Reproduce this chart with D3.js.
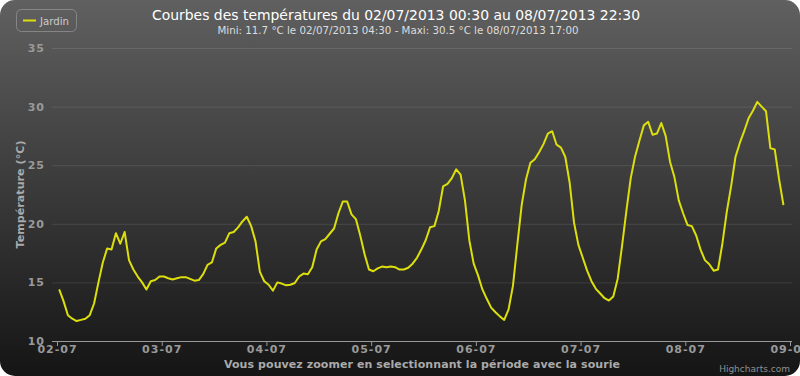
<!DOCTYPE html>
<meta charset="utf-8">
<style>
body { margin: 0; background: #fff; }
svg text { font-family: "DejaVu Sans", sans-serif; }
</style>
<body>
<svg id="chart"></svg>
<script src="https://d3js.org/d3.v7.min.js"></script>
<script>

// hourly readings at hh:30, starting 02/07/2013 00:30
var startTime = Date.UTC(2013, 6, 2, 0, 30);
var temps = [
  // 02/07
  14.4, 13.4, 12.2, 11.9, 11.7, 11.8, 11.9, 12.2, 13.2, 15.0, 16.7, 17.9,
  17.8, 19.2, 18.3, 19.3, 16.9, 16.1, 15.5, 15.0, 14.4, 15.1, 15.2, 15.5,
  // 03/07
  15.5, 15.35, 15.25, 15.35, 15.45, 15.45, 15.3, 15.15, 15.2, 15.7, 16.5, 16.7,
  17.9, 18.2, 18.4, 19.2, 19.3, 19.7, 20.2, 20.6, 19.8, 18.5, 15.9, 15.1,
  // 04/07
  14.8, 14.3, 15.0, 14.9, 14.75, 14.8, 14.95, 15.5, 15.75, 15.7, 16.3, 17.8,
  18.5, 18.7, 19.15, 19.6, 20.9, 21.9, 21.9, 20.8, 20.4, 19.0, 17.4, 16.1,
  // 05/07
  15.95, 16.2, 16.35, 16.3, 16.35, 16.3, 16.1, 16.1, 16.25, 16.6, 17.1, 17.8,
  18.6, 19.7, 19.8, 21.1, 23.2, 23.4, 23.9, 24.65, 24.2, 22.0, 18.6, 16.6,
  // 06/07
  15.6, 14.4, 13.6, 12.85, 12.45, 12.1, 11.8, 12.7, 14.7, 18.2, 21.6, 23.8,
  25.2, 25.5, 26.1, 26.8, 27.7, 27.9, 26.75, 26.5, 25.7, 23.5, 20.1, 18.2,
  // 07/07
  17.1, 16.0, 15.1, 14.45, 14.05, 13.65, 13.45, 13.8, 15.3, 18.1, 21.1, 23.9,
  25.75, 27.1, 28.4, 28.7, 27.6, 27.7, 28.6, 27.5, 25.3, 24.0, 22.0, 20.9,
  // 08/07
  19.9, 19.8, 19.0, 17.8, 16.9, 16.55, 16.0, 16.1, 18.3, 21.0, 23.2, 25.7,
  26.9, 27.9, 29.0, 29.65, 30.4, 30.0, 29.6, 26.45, 26.35, 23.8, 21.6
];
var yTicks = [10, 15, 20, 25, 30, 35];
var seriesName = "Jardin";
var titleText = "Courbes des températures du 02/07/2013 00:30 au 08/07/2013 22:30";
var subtitleText = "Mini: 11.7 °C le 02/07/2013 04:30 - Maxi: 30.5 °C le 08/07/2013 17:00";
var yTitle = "Température (°C)";
var xTitle = "Vous pouvez zoomer en selectionnant la période avec la sourie";

var data = temps.map(function(v, i) {
  return { t: new Date(startTime + i * 3600000), v: v };
});

var width = 800, height = 376;
var plotLeft = 52, plotRight = 792, plotTop = 48, plotBottom = 341;

var svg = d3.select("#chart").attr("width", width).attr("height", height);

var defs = svg.append("defs");
var grad = defs.append("linearGradient")
  .attr("id", "bg").attr("gradientUnits", "userSpaceOnUse")
  .attr("x1", 0).attr("y1", 0).attr("x2", 0).attr("y2", 400);
grad.append("stop").attr("offset", 0).attr("stop-color", "rgb(96,96,96)");
grad.append("stop").attr("offset", 1).attr("stop-color", "rgb(16,16,16)");

svg.append("rect")
  .attr("x", 0).attr("y", 0).attr("width", width).attr("height", height)
  .attr("rx", 15).attr("fill", "url(#bg)");

var x = d3.scaleUtc()
  .domain([new Date(Date.UTC(2013, 6, 2)), new Date(Date.UTC(2013, 6, 9))])
  .range([57, 790]);
var y = d3.scaleLinear().domain([10, 35]).range([plotBottom, plotTop]);

// grid
svg.append("g").selectAll("line")
  .data(yTicks.filter(function(d) { return d > 10; }))
  .enter().append("line")
  .attr("x1", plotLeft).attr("x2", plotRight)
  .attr("y1", function(d) { return y(d) + 0.5; })
  .attr("y2", function(d) { return y(d) + 0.5; })
  .attr("stroke", "rgba(255,255,255,0.1)");

// y labels
svg.append("g").selectAll("text")
  .data(yTicks)
  .enter().append("text")
  .attr("x", 45).attr("y", function(d) { return y(d); })
  .attr("dy", "0.36em")
  .attr("text-anchor", "end")
  .attr("fill", "#999").attr("font-size", "11px").attr("font-weight", "bold")
  .attr("letter-spacing", "1px")
  .text(function(d) { return d; });

svg.append("text")
  .attr("transform", "translate(20," + ((plotTop + plotBottom) / 2) + ") rotate(-90)")
  .attr("text-anchor", "middle").attr("dy", "0.35em")
  .attr("fill", "#AAA").attr("font-size", "11px").attr("font-weight", "bold")
  .attr("textLength", 108).attr("lengthAdjust", "spacing")
  .text(yTitle);

// x axis
var xAxis = d3.axisBottom(x)
  .ticks(d3.utcDay.every(1))
  .tickFormat(d3.utcFormat("%d-%m"))
  .tickSize(5);

var gx = svg.append("g").attr("transform", "translate(0," + plotBottom + ")").call(xAxis);
gx.select(".domain").remove();
gx.selectAll(".tick line").attr("stroke", "#999");
gx.selectAll(".tick text")
  .attr("y", 12).attr("dy", null)
  .attr("fill", "#999").attr("font-size", "11px").attr("font-weight", "bold")
  .attr("font-family", "DejaVu Sans").attr("letter-spacing", "1px");
svg.append("line")
  .attr("x1", plotLeft).attr("x2", plotRight)
  .attr("y1", plotBottom + 0.5).attr("y2", plotBottom + 0.5)
  .attr("stroke", "#999");

svg.append("text")
  .attr("x", (plotLeft + plotRight) / 2).attr("y", 368)
  .attr("text-anchor", "middle")
  .attr("fill", "#AAA").attr("font-size", "11px").attr("font-weight", "bold")
  .attr("textLength", 396).attr("lengthAdjust", "spacing")
  .text(xTitle);

// series
defs.append("clipPath").attr("id", "clip").append("rect")
  .attr("x", plotLeft).attr("y", plotTop - 10)
  .attr("width", plotRight - plotLeft).attr("height", plotBottom - plotTop + 10);

var line = d3.line()
  .x(function(d) { return x(d.t); })
  .y(function(d) { return y(d.v); });

svg.append("path")
  .datum(data)
  .attr("clip-path", "url(#clip)")
  .attr("d", line)
  .attr("fill", "none")
  .attr("stroke", "#DDDF0D")
  .attr("stroke-width", 2)
  .attr("stroke-linejoin", "round");

// titles
svg.append("text")
  .attr("x", 396).attr("y", 20).attr("text-anchor", "middle")
  .attr("fill", "#FFF").attr("font-size", "14px")
  .attr("textLength", 488).attr("lengthAdjust", "spacingAndGlyphs")
  .text(titleText);

svg.append("text")
  .attr("x", 398).attr("y", 34).attr("text-anchor", "middle")
  .attr("fill", "#DDD").attr("font-size", "10px")
  .attr("textLength", 361).attr("lengthAdjust", "spacingAndGlyphs")
  .text(subtitleText);

// legend
var legend = svg.append("g");
legend.append("rect")
  .attr("x", 16.5).attr("y", 9.5).attr("width", 60).attr("height", 22)
  .attr("rx", 5).attr("fill", "none").attr("stroke", "#909090").attr("stroke-opacity", 0.8);
legend.append("line")
  .attr("x1", 23).attr("x2", 36).attr("y1", 20.5).attr("y2", 20.5)
  .attr("stroke", "#DDDF0D").attr("stroke-width", 2);
legend.append("text")
  .attr("x", 40).attr("y", 24.5)
  .attr("fill", "#CCC").attr("font-size", "11px")
  .attr("textLength", 29).attr("lengthAdjust", "spacingAndGlyphs")
  .text(seriesName);

// credits
svg.append("text")
  .attr("x", 790).attr("y", 372).attr("text-anchor", "end")
  .attr("fill", "#909090").attr("font-size", "9px")
  .text("Highcharts.com");

</script>
</body>
